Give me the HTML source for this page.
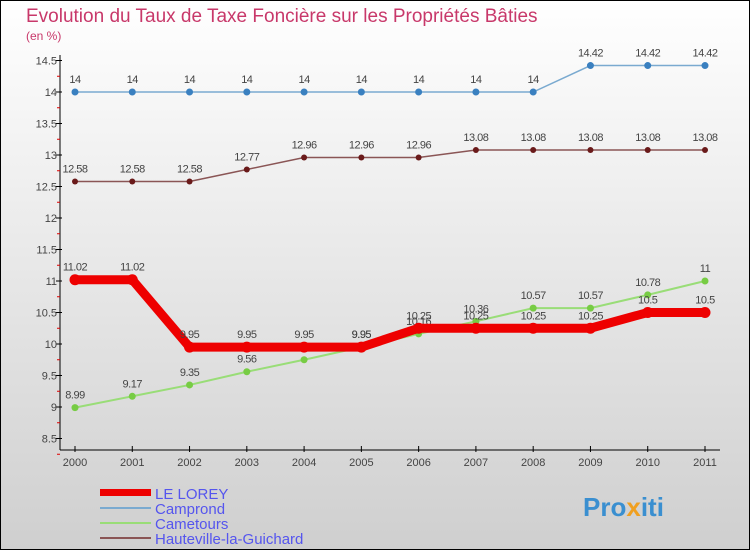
<!DOCTYPE html>
<html><head><meta charset="utf-8"><style>
body{margin:0}
svg{display:block;font-family:"Liberation Sans",sans-serif}
</style></head><body>
<svg id="c" width="750" height="550">
<defs><linearGradient id="bg" x1="0" y1="0" x2="0" y2="1"><stop offset="0" stop-color="#ffffff"/><stop offset="1" stop-color="#cfcfcf"/></linearGradient></defs>
<rect x="0.5" y="0.5" width="749" height="549" fill="url(#bg)" stroke="#000"/>
<text x="26" y="22" font-size="19" fill="#c8386a">Evolution du Taux de Taxe Foncière sur les Propriétés Bâties</text>
<text x="26" y="40" font-size="12" fill="#c8386a">(en %)</text>
<g id="axes"></g><g id="series"></g>
<g>
<rect x="100" y="489" width="51" height="7" fill="#ee0000"/>
<line x1="100" y1="508" x2="151" y2="508" stroke="#7aaad0" stroke-width="2"/>
<line x1="100" y1="523" x2="151" y2="523" stroke="#99dd77" stroke-width="2"/>
<line x1="100" y1="538" x2="151" y2="538" stroke="#8a5555" stroke-width="2"/>
<text x="155" y="499" font-size="15" fill="#5555ee">LE LOREY</text>
<text x="155" y="514" font-size="15" fill="#5555ee">Camprond</text>
<text x="155" y="529" font-size="15" fill="#5555ee">Cametours</text>
<text x="155" y="544" font-size="15" fill="#5555ee">Hauteville-la-Guichard</text>
</g>
<text x="583" y="516" font-size="26" font-weight="bold" fill="#3a8fd0">Pro<tspan fill="#f0a020">x</tspan>iti</text>
</svg>
<script>
const years=[2000,2001,2002,2003,2004,2005,2006,2007,2008,2009,2010,2011];
const yTicks=[8.5,9,9.5,10,10.5,11,11.5,12,12.5,13,13.5,14,14.5];
const camprond=[14,14,14,14,14,14,14,14,14,14.42,14.42,14.42];
const hauteville=[12.58,12.58,12.58,12.77,12.96,12.96,12.96,13.08,13.08,13.08,13.08,13.08];
const cametours=[8.99,9.17,9.35,9.56,9.75,9.95,10.16,10.36,10.57,10.57,10.78,11];
const lorey=[11.02,11.02,9.95,9.95,9.95,9.95,10.25,10.25,10.25,10.25,10.5,10.5];
const NS="http://www.w3.org/2000/svg";
const X=i=>75+i*(630/11), Y=v=>92+(14-v)*63;
function mk(t,a,p){const e=document.createElementNS(NS,t);for(const k in a)e.setAttribute(k,a[k]);p.appendChild(e);return e;}
const ax=document.getElementById('axes'), sg=document.getElementById('series');
let l=mk('line',{x1:60,y1:55,x2:60,y2:450,stroke:'#000'},ax);


l=mk('line',{x1:60,y1:450,x2:720,y2:450,stroke:'#000'},ax);


yTicks.forEach(v=>{const y=Y(v);mk('line',{x1:56,y1:y,x2:62,y2:y,stroke:'#000'},ax);
mk('line',{x1:57,y1:y+15.75,x2:60,y2:y+15.75,stroke:'#d00'},ax);
const t=mk('text',{x:57,y:y+4,'font-size':11,fill:'#444','text-anchor':'end'},ax);t.textContent=String(v);

});
years.forEach((yr,i)=>{const x=X(i);mk('line',{x1:x,y1:446,x2:x,y2:452,stroke:'#000'},ax);
const t=mk('text',{x:x,y:466,'font-size':11,fill:'#444','text-anchor':'middle'},ax);t.textContent=yr;

});
function series(d,col,w,r,dot,name){
const g=mk('g',{},sg);


mk('polyline',{points:d.map((v,i)=>X(i)+','+Y(v)).join(' '),fill:'none',stroke:col,'stroke-width':w},g);
d.forEach((v,i)=>{const c=mk('circle',{cx:X(i),cy:Y(v),r:r,fill:dot},g);


const t=mk('text',{x:X(i),y:Y(v)-9,'font-size':11,fill:'#444','text-anchor':'middle','letter-spacing':'-0.5'},g);t.textContent=String(v);

});}
series(camprond,'#7aaad0',1.5,3.5,'#3a80c0','camprond');
series(hauteville,'#8a5555',1.5,3,'#6a1a1a','hauteville');
series(cametours,'#99dd77',2,3.5,'#77cc44','cametours');
series(lorey,'#ee0000',9,5.5,'#ee0000','le-lorey');
</script>
</body></html>
